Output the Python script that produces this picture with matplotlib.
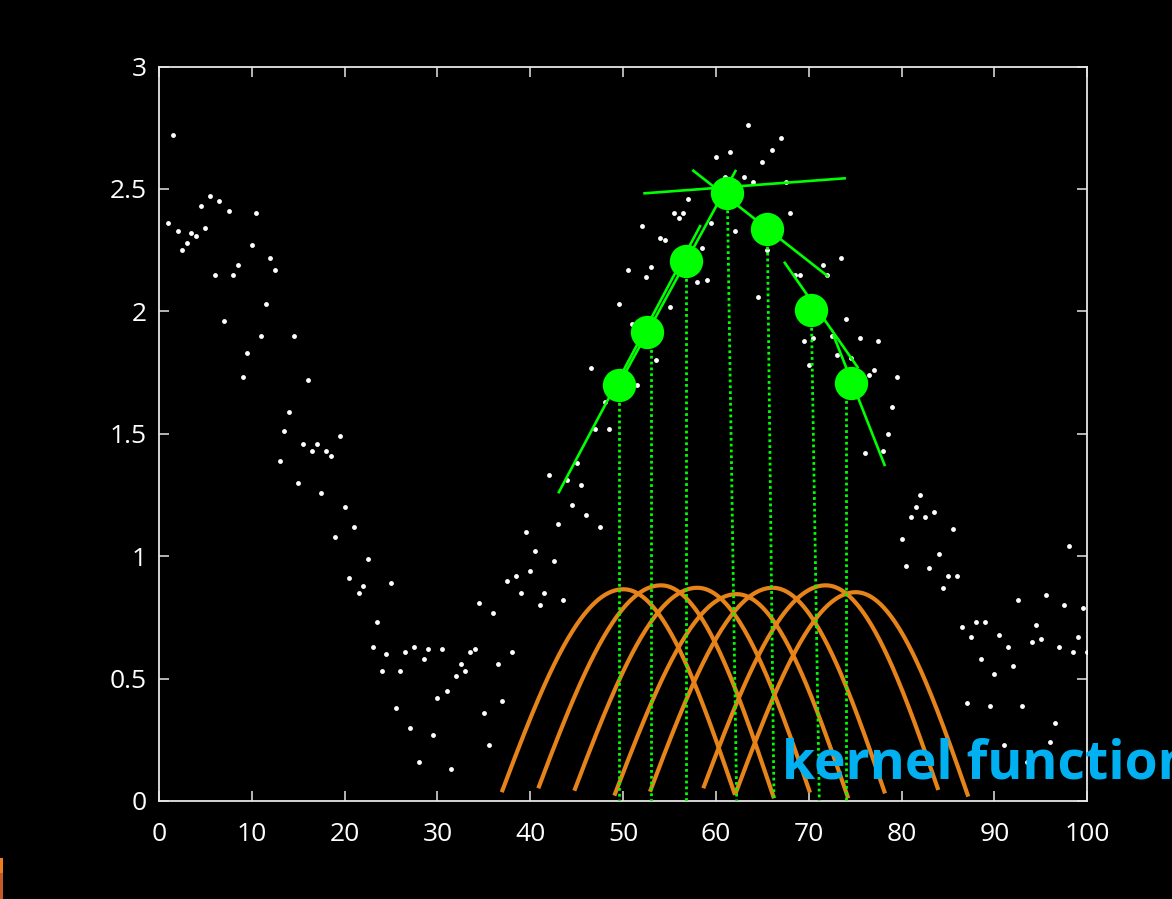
import numpy as np
import matplotlib
matplotlib.use("Agg")
import matplotlib.pyplot as plt
from matplotlib.patches import Rectangle

# noisy samples (x every half unit)
x_pts = [1.0, 1.5, 2.0, 2.5, 3.0, 3.5, 4.0, 4.5, 5.0, 5.5, 6.0, 6.5, 7.0, 7.5, 8.0, 8.5, 9.0, 9.5, 10.0, 10.5,
         11.0, 11.5, 12.0, 12.5, 13.0, 13.5, 14.0, 14.5, 15.0, 15.5, 16.0, 16.5, 17.0, 17.5, 18.0, 18.5, 19.0, 19.5, 20.0, 20.5,
         21.0, 21.5, 22.0, 22.5, 23.0, 23.5, 24.0, 24.5, 25.0, 25.5, 26.0, 26.5, 27.0, 27.5, 28.0, 28.5, 29.0, 29.5, 30.0, 30.5,
         31.0, 31.5, 32.0, 32.5, 33.0, 33.5, 34.0, 34.5, 35.0, 35.5, 36.0, 36.5, 37.0, 37.5, 38.0, 38.5, 39.0, 39.5, 40.0, 40.5,
         41.0, 41.5, 42.0, 42.5, 43.0, 43.5, 44.0, 44.5, 45.0, 45.5, 46.0, 46.5, 47.0, 47.5, 48.0, 48.5, 49.0, 49.5, 50.0, 50.5,
         51.0, 51.5, 52.0, 52.5, 53.0, 53.5, 54.0, 54.5, 55.0, 55.5, 56.0, 56.5, 57.0, 57.5, 58.0, 58.5, 59.0, 59.5, 60.0, 60.5,
         61.0, 61.5, 62.0, 62.5, 63.0, 63.5, 64.0, 64.5, 65.0, 65.5, 66.0, 66.5, 67.0, 67.5, 68.0, 68.5, 69.0, 69.5, 70.0, 70.5,
         71.0, 71.5, 72.0, 72.5, 73.0, 73.5, 74.0, 74.5, 75.0, 75.5, 76.0, 76.5, 77.0, 77.5, 78.0, 78.5, 79.0, 79.5, 80.0, 80.5,
         81.0, 81.5, 82.0, 82.5, 83.0, 83.5, 84.0, 84.5, 85.0, 85.5, 86.0, 86.5, 87.0, 87.5, 88.0, 88.5, 89.0, 89.5, 90.0, 90.5,
         91.0, 91.5, 92.0, 92.5, 93.0, 93.5, 94.0, 94.5, 95.0, 95.5, 96.0, 96.5, 97.0, 97.5, 98.0, 98.5, 99.0, 99.5, 100.0]
y_pts = [2.36, 2.72, 2.33, 2.25, 2.28, 2.32, 2.31, 2.43, 2.34, 2.47, 2.15, 2.45, 1.96, 2.41, 2.15, 2.19, 1.73, 1.83, 2.27, 2.40,
         1.90, 2.03, 2.22, 2.17, 1.39, 1.51, 1.59, 1.90, 1.30, 1.46, 1.72, 1.43, 1.46, 1.26, 1.43, 1.41, 1.08, 1.49, 1.20, 0.91,
         1.12, 0.85, 0.88, 0.99, 0.63, 0.73, 0.53, 0.60, 0.89, 0.38, 0.53, 0.61, 0.30, 0.63, 0.16, 0.58, 0.62, 0.27, 0.42, 0.62,
         0.45, 0.13, 0.51, 0.56, 0.53, 0.61, 0.62, 0.81, 0.36, 0.23, 0.77, 0.56, 0.41, 0.90, 0.61, 0.92, 0.85, 1.10, 0.94, 1.02,
         0.80, 0.85, 1.33, 0.98, 1.13, 0.82, 1.31, 1.21, 1.38, 1.29, 1.17, 1.77, 1.52, 1.12, 1.63, 1.52, 1.68, 2.03, 1.75, 2.17,
         1.95, 1.70, 2.35, 2.14, 2.18, 1.80, 2.30, 2.29, 2.02, 2.40, 2.38, 2.40, 2.46, 2.20, 2.12, 2.26, 2.13, 2.36, 2.63, 2.45,
         2.55, 2.65, 2.33, 2.47, 2.55, 2.76, 2.53, 2.06, 2.61, 2.25, 2.66, 2.30, 2.71, 2.53, 2.40, 2.15, 2.15, 1.88, 1.78, 1.89,
         2.00, 2.19, 2.15, 1.90, 1.82, 2.22, 1.97, 1.81, 1.70, 1.89, 1.42, 1.74, 1.76, 1.88, 1.43, 1.50, 1.61, 1.73, 1.07, 0.96,
         1.16, 1.20, 1.25, 1.16, 0.95, 1.18, 1.01, 0.87, 0.92, 1.11, 0.92, 0.71, 0.40, 0.67, 0.73, 0.58, 0.73, 0.39, 0.52, 0.68,
         0.23, 0.63, 0.55, 0.82, 0.39, 0.16, 0.65, 0.72, 0.66, 0.84, 0.24, 0.32, 0.63, 0.80, 1.04, 0.61, 0.67, 0.79, 0.61]

# local fit estimates (green dots)
fit_x = [49.52, 52.60, 56.80, 61.22, 65.53, 70.27, 74.51]
fit_y = [1.698, 1.915, 2.205, 2.484, 2.335, 2.004, 1.706]

# dotted drop lines: x at top and at bottom
drop_top_x = [49.52, 52.97, 56.82, 61.22, 65.53, 70.27, 73.97]
drop_bot_x = [49.52, 52.97, 56.82, 62.23, 66.25, 71.13, 73.97]

# local regression line segments
seg_x0 = [43.01, 49.52, 52.17, 57.45, 67.33, 72.64]
seg_y0 = [1.257, 1.700, 2.482, 2.578, 2.203, 1.904]
seg_x1 = [58.35, 62.16, 74.00, 72.10, 75.33, 78.21]
seg_y1 = [2.353, 2.578, 2.544, 2.142, 1.768, 1.368]

# kernel weight curves
kern_peak_x = [50.02, 54.08, 57.99, 62.23, 66.11, 71.82, 75.05]
kern_peak_y = [0.865, 0.881, 0.871, 0.845, 0.871, 0.881, 0.853]
kern_left = [36.92, 40.86, 44.74, 49.05, 52.89, 58.63, 62.05]
kern_left_y = [0.036, 0.052, 0.042, 0.022, 0.038, 0.052, 0.025]
kern_right = [62.05, 66.25, 70.13, 74.25, 78.21, 83.95, 87.18]
kern_right_y = [0.025, 0.011, 0.034, 0.011, 0.031, 0.045, 0.018]

x_ticks = [0, 10, 20, 30, 40, 50, 60, 70, 80, 90, 100]
y_ticks = [0, 0.5, 1, 1.5, 2, 2.5, 3]
y_tick_labels = ["0", "0.5", "1", "1.5", "2", "2.5", "3"]

GREEN = "#00ff00"
ORANGE = "#e6841a"
FRAME = "#e6e6e6"

plt.rcParams['font.family'] = ['Open Sans', 'DejaVu Sans']

fig = plt.figure(figsize=(11.72, 8.99), dpi=100, facecolor="black")
ax = fig.add_axes([159 / 1172, 98 / 899, 928.3 / 1172, 734.4 / 899])
ax.set_facecolor("black")

# kernels
for c, h, l, r, yl, yr in zip(kern_peak_x, kern_peak_y, kern_left, kern_right, kern_left_y, kern_right_y):
    ul = 2 / np.pi * np.arccos(yl / h)
    ur = 2 / np.pi * np.arccos(yr / h)
    xl = np.linspace(l, c, 80)
    xr = np.linspace(c, r, 80)
    yl_curve = h * np.cos(np.pi / 2 * (c - xl) / (c - l) * ul)
    yr_curve = h * np.cos(np.pi / 2 * (xr - c) / (r - c) * ur)
    ax.plot(np.concatenate([xl, xr[1:]]), np.concatenate([yl_curve, yr_curve[1:]]),
            color=ORANGE, lw=3.0, solid_capstyle="butt", zorder=2)

# scatter
ax.plot(x_pts, y_pts, "o", color="white", ms=3.5, mec="none", zorder=3)

# drop lines
for xt, xb, yt in zip(drop_top_x, drop_bot_x, fit_y):
    ax.plot([xt, xb], [yt, 0], color=GREEN, lw=2.0, ls=(0, (1, 1.1)), zorder=4)

# local fit segments
for x0, y0, x1, y1 in zip(seg_x0, seg_y0, seg_x1, seg_y1):
    ax.plot([x0, x1], [y0, y1], color=GREEN, lw=1.9, solid_capstyle="butt", zorder=5)

ax.plot(fit_x, fit_y, "o", color=GREEN, ms=24, mec="none", zorder=6)

ax.set_xlim(0, 100)
ax.set_ylim(0, 3)
ax.set_xticks(x_ticks)
ax.set_yticks(y_ticks)
ax.set_yticklabels(y_tick_labels)
for s in ax.spines.values():
    s.set_color(FRAME)
    s.set_linewidth(1.3)
ax.tick_params(direction="in", length=7.5, width=1.1, color=FRAME, labelcolor="white",
               labelsize=19, top=True, right=True)
ax.tick_params(axis="x", pad=15)
ax.tick_params(axis="y", pad=9)

# label runs off the right edge, as in the slide
fig.text(782 / 1172, (899 - 778.3) / 899, "kernel function", color="#00b0f0",
         fontsize=38.5, fontweight="bold", ha="left", va="baseline")

# slide remnants at bottom left edge
fig.patches.append(Rectangle((0, 0), 2.7 / 1172, 26.3 / 899, transform=fig.transFigure,
                             facecolor="#c55a28", edgecolor="none"))
fig.patches.append(Rectangle((0, 26.3 / 899), 2.7 / 1172, 15 / 899, transform=fig.transFigure,
                             facecolor="#ed7d1f", edgecolor="none"))

fig.savefig("out.png", dpi=100, facecolor="black")
